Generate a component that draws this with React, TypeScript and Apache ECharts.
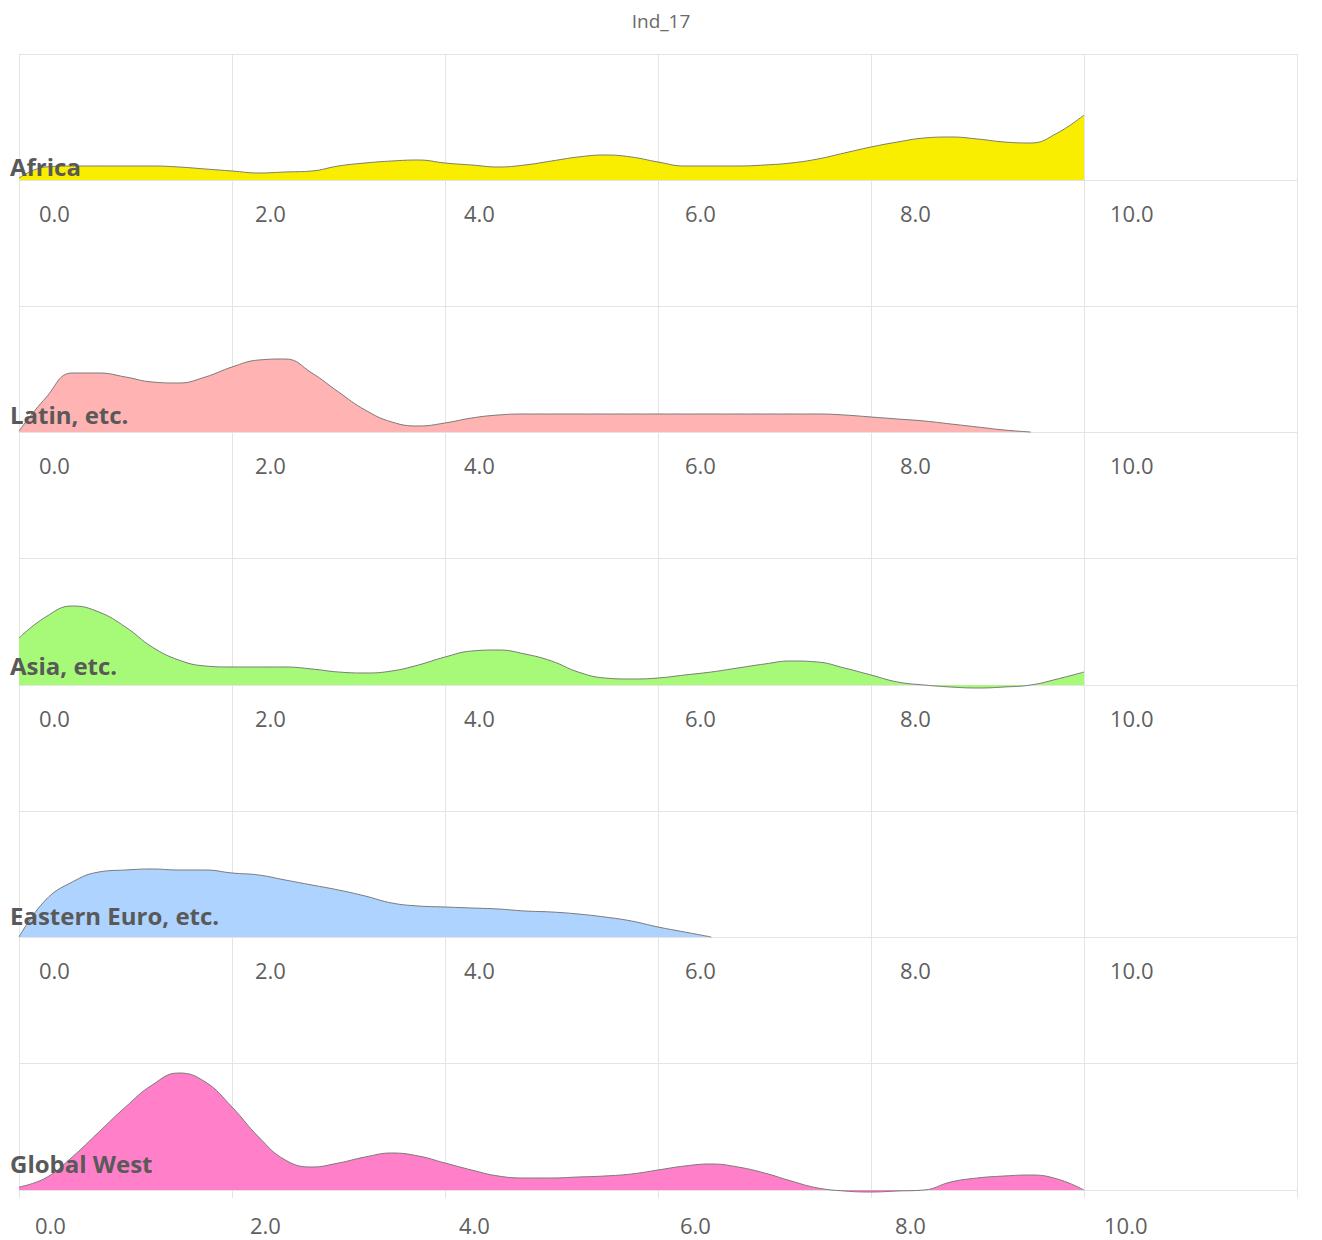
import React, { useEffect, useRef } from "react";
import * as echarts from "echarts";

const title = "Ind_17";
const groups = ["Africa", "Latin, etc.", "Asia, etc.", "Eastern Euro, etc.", "Global West"];
const fillColors = ["#FAEE00", "#FFB3B3", "#A6FA78", "#AED3FF", "#FF80C8"];

const xGrid = [
  0, 0.25, 0.5, 0.75, 1, 1.25, 1.5, 1.75, 2, 2.25, 2.5, 2.75, 3, 3.25, 3.5, 3.75,
  4, 4.25, 4.5, 4.75, 5, 5.25, 5.5, 5.75, 6, 6.25, 6.5, 6.75, 7, 7.25, 7.5, 7.75,
  8, 8.25, 8.5, 8.75, 9, 9.25, 9.5, 9.75, 10,
];

const africa = [
  0.02, 0.13, 0.14, 0.14, 0.14, 0.14, 0.13, 0.11, 0.09, 0.07, 0.08, 0.09, 0.14, 0.17, 0.19, 0.2,
  0.17, 0.15, 0.13, 0.15, 0.19, 0.23, 0.25, 0.23, 0.18, 0.14, 0.14, 0.14, 0.15, 0.17, 0.21, 0.27,
  0.33, 0.38, 0.42, 0.43, 0.41, 0.38, 0.37, 0.47, 0.65,
];
const latin = [
  0.01, 0.34, 0.59, 0.59, 0.55, 0.5, 0.49, 0.55, 0.65, 0.72, 0.73, 0.59, 0.4, 0.22, 0.1, 0.06,
  0.09, 0.14, 0.17, 0.18, 0.18, 0.18, 0.18, 0.18, 0.18, 0.18, 0.18, 0.18, 0.18, 0.18, 0.18, 0.17,
  0.15, 0.13, 0.11, 0.08, 0.05, 0.02, 0.0, null, null,
];
const asia = [
  0.47, 0.68, 0.79, 0.73, 0.58, 0.38, 0.25, 0.19, 0.18, 0.18, 0.18, 0.16, 0.13, 0.12, 0.14, 0.2,
  0.28, 0.34, 0.35, 0.31, 0.24, 0.13, 0.07, 0.06, 0.07, 0.1, 0.13, 0.17, 0.21, 0.24, 0.23, 0.17,
  0.1, 0.03, 0.0, -0.02, -0.03, -0.02, 0.0, 0.06, 0.13,
];
const easternEuro = [
  0.0, 0.37, 0.55, 0.65, 0.67, 0.68, 0.67, 0.67, 0.64, 0.62, 0.57, 0.52, 0.47, 0.41, 0.34, 0.31,
  0.3, 0.29, 0.28, 0.26, 0.25, 0.23, 0.2, 0.16, 0.1, 0.05, 0.0, null, null, null, null, null,
  null, null, null, null, null, null, null, null, null,
];
const globalWest = [
  0.03, 0.12, 0.33, 0.58, 0.83, 1.05, 1.17, 1.08, 0.83, 0.53, 0.3, 0.23, 0.27, 0.33, 0.37, 0.34,
  0.27, 0.2, 0.14, 0.12, 0.12, 0.13, 0.14, 0.16, 0.2, 0.24, 0.26, 0.23, 0.17, 0.09, 0.02, -0.01,
  -0.02, -0.01, 0.0, 0.08, 0.12, 0.14, 0.15, 0.11, 0.0,
];

const seriesValues = [africa, latin, asia, easternEuro, globalWest];

export default function App() {
  const ref = useRef<HTMLDivElement>(null);

  useEffect(() => {
    if (!ref.current) return;
    const chart = echarts.init(ref.current, undefined, { renderer: "svg" });

    const rowTops = [54, 306, 558, 811, 1063];
    const baselines = [180, 432, 685, 937, 1190];
    const labelCenters = [166, 414, 665, 915, 1163];
    const gridColor = "#e4e4e4";
    const font = "'Open Sans', 'Noto Sans', sans-serif";
    const labelColor = "#5f5f5f";
    // per-tick left offsets of the tick labels (the source shifts them a little)
    const padRows = [20, 23, 19, 27, 29, 26];
    const padLast = [16, 18, 14, 22, 24, 20];
    const n = groups.length;

    const makeRich = (pads: number[]) => {
      const rich: any = {};
      pads.forEach((p, k) => {
        rich["t" + k] = {
          color: labelColor,
          fontSize: 22,
          fontFamily: font,
          padding: [0, 0, 0, p],
        };
      });
      return rich;
    };

    const grids: any[] = [];
    const xAxes: any[] = [];
    const yAxes: any[] = [];
    const series: any[] = [];
    const graphics: any[] = [];

    for (let i = 0; i < n; i++) {
      const last = i === n - 1;
      const h = baselines[i] - rowTops[i];
      const yMax = h / 100;
      grids.push({ left: 19, width: 1278, top: rowTops[i], height: h });
      xAxes.push({
        type: "value",
        gridIndex: i,
        min: 0,
        max: 12,
        interval: 2,
        axisLine: { show: true, onZero: false, lineStyle: { color: gridColor, width: 1 } },
        axisTick: { show: last, length: 8, lineStyle: { color: gridColor } },
        splitLine: { show: true, lineStyle: { color: gridColor, width: 1 } },
        axisLabel: {
          show: true,
          color: labelColor,
          fontSize: 22,
          fontFamily: font,
          align: "left",
          margin: last ? 24 : 22,
          rich: makeRich(last ? padLast : padRows),
          formatter: (v: number) => {
            if (v >= 12) return "";
            const k = Math.round(v / 2);
            return `{t${k}|${v.toFixed(1)}}`;
          },
        },
      });
      yAxes.push({
        type: "value",
        gridIndex: i,
        min: 0,
        max: yMax,
        interval: yMax,
        axisLine: { show: false },
        axisTick: { show: false },
        axisLabel: { show: false },
        splitLine: { show: true, lineStyle: { color: gridColor, width: 1 } },
      });
      const data: any[] = [];
      seriesValues[i].forEach((v, k) => {
        if (v !== null && v !== undefined) data.push([xGrid[k], v]);
      });
      series.push({
        type: "line",
        name: groups[i],
        xAxisIndex: i,
        yAxisIndex: i,
        data,
        smooth: 0.45,
        symbol: "none",
        clip: false,
        lineStyle: { color: "#7a7a7a", width: 1 },
        areaStyle: { color: fillColors[i], opacity: 1, origin: "start" },
        z: 3,
      });
      graphics.push({
        type: "text",
        x: 10,
        y: labelCenters[i],
        z: 100,
        style: {
          text: groups[i],
          font: `bold 24px ${font}`,
          fill: "#595959",
          align: "left",
          verticalAlign: "middle",
        },
      });
    }

    for (let i = 0; i < n - 1; i++) {
      const gi = grids.length;
      grids.push({ left: 19, width: 1278, top: baselines[i], height: rowTops[i + 1] - baselines[i] });
      xAxes.push({
        type: "value",
        gridIndex: gi,
        min: 0,
        max: 12,
        interval: 2,
        axisLine: { show: false },
        axisTick: { show: false },
        axisLabel: { show: false },
        splitLine: { show: true, lineStyle: { color: gridColor, width: 1 } },
      });
      yAxes.push({
        type: "value",
        gridIndex: gi,
        min: 0,
        max: 1,
        interval: 1,
        axisLine: { show: false },
        axisTick: { show: false },
        axisLabel: { show: false },
        splitLine: { show: false },
      });
    }

    chart.setOption({
      animation: false,
      backgroundColor: "#ffffff",
      title: {
        text: title,
        left: "center",
        top: 6,
        textStyle: { fontSize: 19, fontWeight: "normal", color: "#6a6a6a", fontFamily: font },
      },
      grid: grids,
      xAxis: xAxes,
      yAxis: yAxes,
      series,
      graphic: graphics,
    });

    return () => chart.dispose();
  }, []);

  return (
    <div
      ref={ref}
      style={{ position: "fixed", left: 0, top: 0, width: 1322, height: 1240, background: "#fff" }}
    />
  );
}
